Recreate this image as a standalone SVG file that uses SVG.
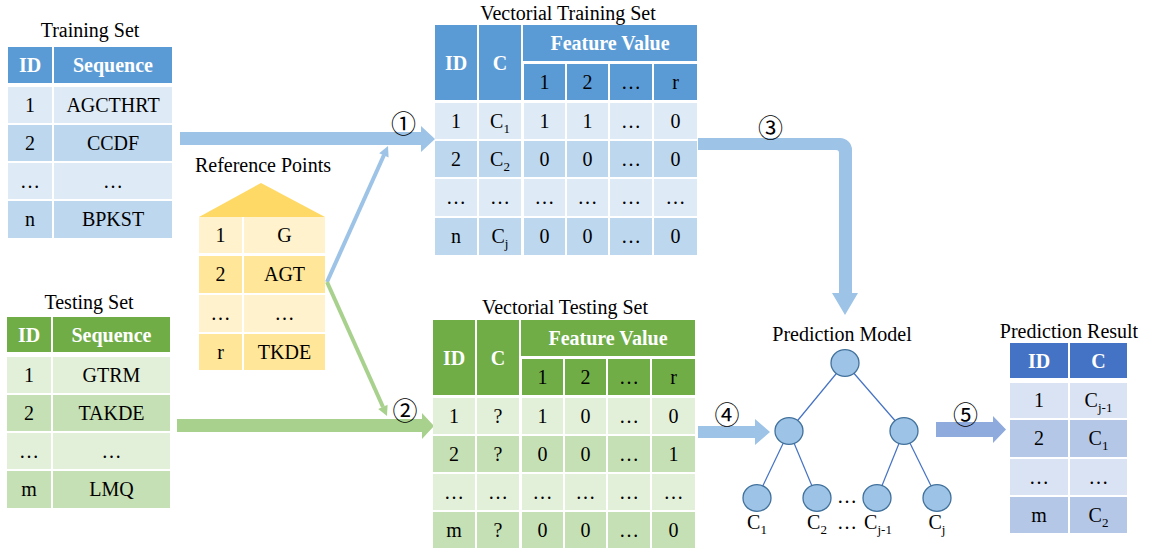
<svg xmlns="http://www.w3.org/2000/svg" width="1151" height="548" viewBox="0 0 1151 548">
<style>
text{font-family:"Times New Roman","Liberation Serif",Times,"DejaVu Serif",serif;font-size:20px;text-anchor:middle;fill:#000}
.h{font-weight:bold;fill:#fff}
.s{font-size:13px}
text.n{font-family:"Noto Sans CJK SC","DejaVu Sans",sans-serif;font-size:25px}
.bh{fill:#5B9BD5}.bl{fill:#DEEBF7}.bd{fill:#BDD7EE}
.gh{fill:#70AD47}.gl{fill:#E2F0D9}.gd{fill:#C5E0B4}
.yl{fill:#FFF2CC}.yd{fill:#FFE699}
.ph{fill:#4472C4}.pl{fill:#DAE3F3}.pd{fill:#B4C7E7}
.edge{stroke:#4472C4;stroke-width:1.2;fill:none}
.node{fill:#9DC3E6;stroke:#41719C;stroke-width:1.3}
</style>
<rect width="1151" height="548" fill="#fff"/>

<g id="connectors">
  <polygon points="180,132 421,132 421,126 435,139 421,152 421,145 180,145" fill="#9DC3E6"/>
  <polygon points="177,419 422,419 422,413 434,426 422,439 422,432 177,432" fill="#A9D18E"/>
  <path d="M698,138 H840 A12,12 0 0 1 852,150 V293 H858 L845,315 L832,293 H839 V153 A3,3 0 0 0 836,150 H698 Z" fill="#9DC3E6"/>
  <polygon points="698,426 755,426 755,419 770,432 755,445 755,438 698,438" fill="#9DC3E6"/>
  <polygon points="936,422 993,422 993,416 1006,429.5 993,443 993,437 936,437" fill="#8FAADC"/>
  <line x1="327" y1="282" x2="384" y2="155" stroke="#9DC3E6" stroke-width="4"/>
  <polygon points="388,146 388.6,157.4 379.2,153.2" fill="#9DC3E6"/>
  <line x1="327" y1="282" x2="383" y2="407" stroke="#A9D18E" stroke-width="4"/>
  <polygon points="387,416 387.6,404.7 378.2,409" fill="#A9D18E"/>
  <text class="n" x="403.5" y="133">①</text>
  <text class="n" x="405" y="420">②</text>
  <text class="n" x="770.5" y="136.5">③</text>
  <text class="n" x="727" y="424">④</text>
  <text class="n" x="965.5" y="424">⑤</text>
</g>

<g id="training-set">
  <text x="90" y="37">Training Set</text>
  <rect class="bh" x="8" y="47" width="44" height="36"/>
  <rect class="bh" x="54" y="47" width="118" height="36"/>
  <text class="h" x="30" y="72">ID</text>
  <text class="h" x="113" y="72">Sequence</text>
  <rect class="bl" x="8" y="87" width="44" height="36"/><rect class="bl" x="54" y="87" width="118" height="36"/>
  <rect class="bd" x="8" y="125" width="44" height="36"/><rect class="bd" x="54" y="125" width="118" height="36"/>
  <rect class="bl" x="8" y="163" width="44" height="36"/><rect class="bl" x="54" y="163" width="118" height="36"/>
  <rect class="bd" x="8" y="201" width="44" height="37"/><rect class="bd" x="54" y="201" width="118" height="37"/>
  <text x="30" y="112">1</text><text x="113" y="112">AGCTHRT</text>
  <text x="30" y="150">2</text><text x="113" y="150">CCDF</text>
  <text x="30" y="188">…</text><text x="113" y="188">…</text>
  <text x="30" y="226">n</text><text x="113" y="226">BPKST</text>
</g>

<g id="testing-set">
  <text x="89" y="309">Testing Set</text>
  <rect class="gh" x="7" y="317" width="44" height="35"/>
  <rect class="gh" x="53" y="317" width="117" height="35"/>
  <text class="h" x="29" y="342">ID</text>
  <text class="h" x="111.5" y="342">Sequence</text>
  <rect class="gl" x="7" y="357" width="44" height="36"/><rect class="gl" x="53" y="357" width="117" height="36"/>
  <rect class="gd" x="7" y="395" width="44" height="36"/><rect class="gd" x="53" y="395" width="117" height="36"/>
  <rect class="gl" x="7" y="433" width="44" height="36"/><rect class="gl" x="53" y="433" width="117" height="36"/>
  <rect class="gd" x="7" y="471" width="44" height="37"/><rect class="gd" x="53" y="471" width="117" height="37"/>
  <text x="29" y="382">1</text><text x="111.5" y="382">GTRM</text>
  <text x="29" y="420">2</text><text x="111.5" y="420">TAKDE</text>
  <text x="29" y="458">…</text><text x="111.5" y="458">…</text>
  <text x="29" y="496">m</text><text x="111.5" y="496">LMQ</text>
</g>

<g id="reference-points">
  <text x="263" y="172">Reference Points</text>
  <polygon points="199,217 261,183 325,217" fill="#FFD966"/>
  <rect class="yl" x="199" y="217" width="43" height="36"/><rect class="yl" x="244" y="217" width="81" height="36"/>
  <rect class="yd" x="199" y="256" width="43" height="37"/><rect class="yd" x="244" y="256" width="81" height="37"/>
  <rect class="yl" x="199" y="295" width="43" height="37"/><rect class="yl" x="244" y="295" width="81" height="37"/>
  <rect class="yd" x="199" y="334" width="43" height="36"/><rect class="yd" x="244" y="334" width="81" height="36"/>
  <text x="220.5" y="242">1</text><text x="284.5" y="242">G</text>
  <text x="220.5" y="281">2</text><text x="284.5" y="281">AGT</text>
  <text x="220.5" y="320">…</text><text x="284.5" y="320">…</text>
  <text x="220.5" y="359">r</text><text x="284.5" y="359">TKDE</text>
</g>

<g id="vectorial-training-set">
  <text x="568" y="20">Vectorial Training Set</text>
  <rect class="bh" x="435" y="25" width="42" height="75"/>
  <rect class="bh" x="479" y="25" width="42" height="75"/>
  <rect class="bh" x="523" y="25" width="174" height="36"/>
  <rect class="bh" x="524" y="64" width="41" height="36"/>
  <rect class="bh" x="567" y="64" width="41" height="36"/>
  <rect class="bh" x="610" y="64" width="42" height="36"/>
  <rect class="bh" x="654" y="64" width="43" height="36"/>
  <text class="h" x="456" y="70">ID</text>
  <text class="h" x="500" y="70">C</text>
  <text class="h" x="610" y="50">Feature Value</text>
  <text x="544.5" y="89">1</text><text x="587.5" y="89">2</text><text x="631" y="89">…</text><text x="675.5" y="89">r</text>
  <g class="bl">
    <rect x="435" y="103" width="42" height="36"/><rect x="479" y="103" width="42" height="36"/><rect x="524" y="103" width="41" height="36"/><rect x="567" y="103" width="41" height="36"/><rect x="610" y="103" width="42" height="36"/><rect x="654" y="103" width="43" height="36"/>
    <rect x="435" y="179" width="42" height="37"/><rect x="479" y="179" width="42" height="37"/><rect x="524" y="179" width="41" height="37"/><rect x="567" y="179" width="41" height="37"/><rect x="610" y="179" width="42" height="37"/><rect x="654" y="179" width="43" height="37"/>
  </g>
  <g class="bd">
    <rect x="435" y="141" width="42" height="36"/><rect x="479" y="141" width="42" height="36"/><rect x="524" y="141" width="41" height="36"/><rect x="567" y="141" width="41" height="36"/><rect x="610" y="141" width="42" height="36"/><rect x="654" y="141" width="43" height="36"/>
    <rect x="435" y="218" width="42" height="37"/><rect x="479" y="218" width="42" height="37"/><rect x="524" y="218" width="41" height="37"/><rect x="567" y="218" width="41" height="37"/><rect x="610" y="218" width="42" height="37"/><rect x="654" y="218" width="43" height="37"/>
  </g>
  <text x="456" y="128">1</text><text x="500" y="128">C<tspan class="s" dy="5">1</tspan></text><text x="544.5" y="128">1</text><text x="587.5" y="128">1</text><text x="631" y="128">…</text><text x="675.5" y="128">0</text>
  <text x="456" y="166">2</text><text x="500" y="166">C<tspan class="s" dy="5">2</tspan></text><text x="544.5" y="166">0</text><text x="587.5" y="166">0</text><text x="631" y="166">…</text><text x="675.5" y="166">0</text>
  <text x="456" y="204">…</text><text x="500" y="204">…</text><text x="544.5" y="204">…</text><text x="587.5" y="204">…</text><text x="631" y="204">…</text><text x="675.5" y="204">…</text>
  <text x="456" y="243">n</text><text x="500" y="243">C<tspan class="s" dy="5">j</tspan></text><text x="544.5" y="243">0</text><text x="587.5" y="243">0</text><text x="631" y="243">…</text><text x="675.5" y="243">0</text>
</g>

<g id="vectorial-testing-set">
  <text x="565" y="314">Vectorial Testing Set</text>
  <rect class="gh" x="433" y="320" width="42" height="75"/>
  <rect class="gh" x="477" y="320" width="42" height="75"/>
  <rect class="gh" x="521" y="320" width="174" height="36"/>
  <rect class="gh" x="522" y="359" width="41" height="36"/>
  <rect class="gh" x="565" y="359" width="41" height="36"/>
  <rect class="gh" x="608" y="359" width="42" height="36"/>
  <rect class="gh" x="652" y="359" width="43" height="36"/>
  <text class="h" x="454" y="365">ID</text>
  <text class="h" x="498" y="365">C</text>
  <text class="h" x="608" y="345">Feature Value</text>
  <text x="542.5" y="384">1</text><text x="585.5" y="384">2</text><text x="629" y="384">…</text><text x="673.5" y="384">r</text>
  <g class="gl">
    <rect x="433" y="398" width="42" height="36"/><rect x="477" y="398" width="42" height="36"/><rect x="522" y="398" width="41" height="36"/><rect x="565" y="398" width="41" height="36"/><rect x="608" y="398" width="42" height="36"/><rect x="652" y="398" width="43" height="36"/>
    <rect x="433" y="474" width="42" height="36"/><rect x="477" y="474" width="42" height="36"/><rect x="522" y="474" width="41" height="36"/><rect x="565" y="474" width="41" height="36"/><rect x="608" y="474" width="42" height="36"/><rect x="652" y="474" width="43" height="36"/>
  </g>
  <g class="gd">
    <rect x="433" y="436" width="42" height="36"/><rect x="477" y="436" width="42" height="36"/><rect x="522" y="436" width="41" height="36"/><rect x="565" y="436" width="41" height="36"/><rect x="608" y="436" width="42" height="36"/><rect x="652" y="436" width="43" height="36"/>
    <rect x="433" y="512" width="42" height="36"/><rect x="477" y="512" width="42" height="36"/><rect x="522" y="512" width="41" height="36"/><rect x="565" y="512" width="41" height="36"/><rect x="608" y="512" width="42" height="36"/><rect x="652" y="512" width="43" height="36"/>
  </g>
  <text x="454" y="423">1</text><text x="498" y="423">?</text><text x="542.5" y="423">1</text><text x="585.5" y="423">0</text><text x="629" y="423">…</text><text x="673.5" y="423">0</text>
  <text x="454" y="461">2</text><text x="498" y="461">?</text><text x="542.5" y="461">0</text><text x="585.5" y="461">0</text><text x="629" y="461">…</text><text x="673.5" y="461">1</text>
  <text x="454" y="499">…</text><text x="498" y="499">…</text><text x="542.5" y="499">…</text><text x="585.5" y="499">…</text><text x="629" y="499">…</text><text x="673.5" y="499">…</text>
  <text x="454" y="537">m</text><text x="498" y="537">?</text><text x="542.5" y="537">0</text><text x="585.5" y="537">0</text><text x="629" y="537">…</text><text x="673.5" y="537">0</text>
</g>

<g id="prediction-model">
  <text x="842" y="341">Prediction Model</text>
  <g class="edge">
    <line x1="845" y1="363" x2="789" y2="431"/>
    <line x1="845" y1="363" x2="904" y2="431"/>
    <line x1="789" y1="431" x2="757" y2="498"/>
    <line x1="789" y1="431" x2="817" y2="498"/>
    <line x1="904" y1="431" x2="877" y2="498"/>
    <line x1="904" y1="431" x2="937" y2="498"/>
  </g>
  <ellipse class="node" cx="845" cy="363" rx="14" ry="13.3"/>
  <ellipse class="node" cx="789" cy="431" rx="14" ry="13.3"/>
  <ellipse class="node" cx="904" cy="431" rx="14" ry="13.3"/>
  <ellipse class="node" cx="757" cy="498" rx="14" ry="13.3"/>
  <ellipse class="node" cx="817" cy="498" rx="14" ry="13.3"/>
  <ellipse class="node" cx="877" cy="498" rx="14" ry="13.3"/>
  <ellipse class="node" cx="937" cy="498" rx="14" ry="13.3"/>
  <text x="847" y="503">…</text>
  <text x="757" y="529">C<tspan class="s" dy="5">1</tspan></text>
  <text x="817" y="529">C<tspan class="s" dy="5">2</tspan></text>
  <text x="847" y="529">…</text>
  <text x="878" y="529">C<tspan class="s" dy="5">j-1</tspan></text>
  <text x="937" y="529">C<tspan class="s" dy="5">j</tspan></text>
</g>

<g id="prediction-result">
  <text x="1069" y="338">Prediction Result</text>
  <rect class="ph" x="1010" y="343" width="58" height="35"/>
  <rect class="ph" x="1070" y="343" width="57" height="35"/>
  <text class="h" x="1039" y="368">ID</text>
  <text class="h" x="1098.5" y="368">C</text>
  <rect class="pl" x="1010" y="383" width="58" height="35"/><rect class="pl" x="1070" y="383" width="57" height="35"/>
  <rect class="pd" x="1010" y="420" width="58" height="37"/><rect class="pd" x="1070" y="420" width="57" height="37"/>
  <rect class="pl" x="1010" y="459" width="58" height="36"/><rect class="pl" x="1070" y="459" width="57" height="36"/>
  <rect class="pd" x="1010" y="497" width="58" height="36"/><rect class="pd" x="1070" y="497" width="57" height="36"/>
  <text x="1039" y="407">1</text><text x="1098.5" y="407">C<tspan class="s" dy="5">j-1</tspan></text>
  <text x="1039" y="445">2</text><text x="1098.5" y="445">C<tspan class="s" dy="5">1</tspan></text>
  <text x="1039" y="484">…</text><text x="1098.5" y="484">…</text>
  <text x="1039" y="522">m</text><text x="1098.5" y="522">C<tspan class="s" dy="5">2</tspan></text>
</g>
</svg>
